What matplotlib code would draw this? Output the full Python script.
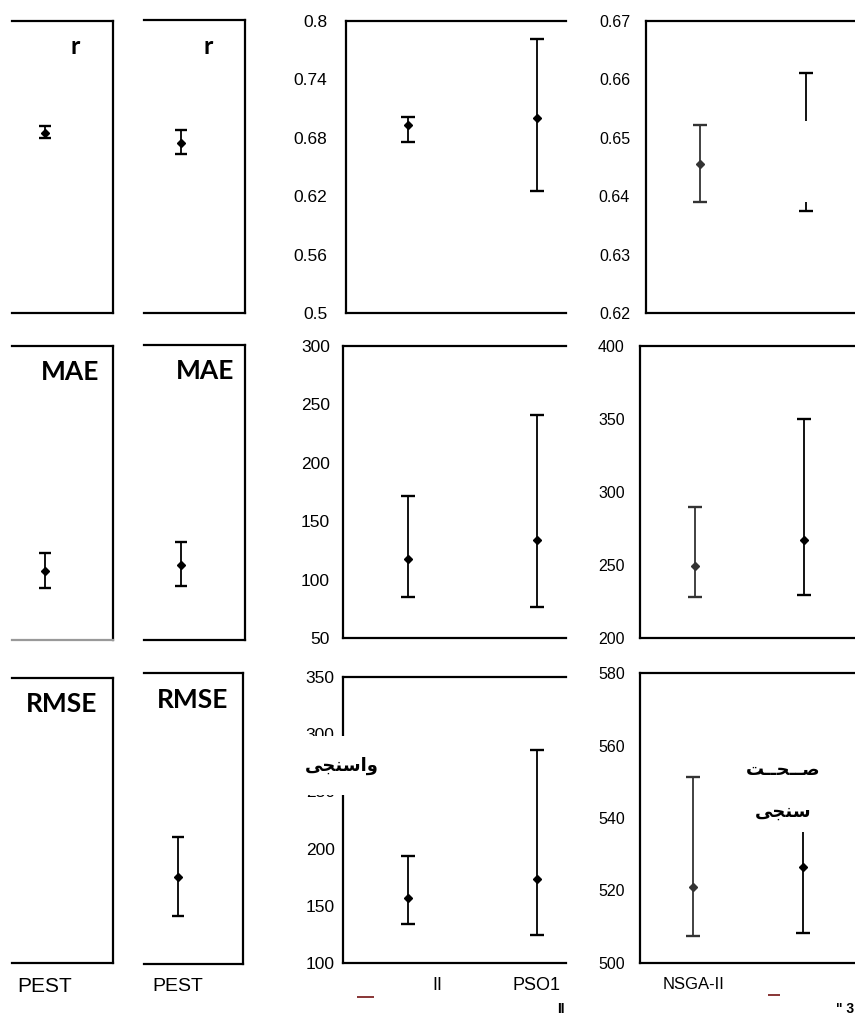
import matplotlib
matplotlib.use("Agg")
import matplotlib.pyplot as plt
from matplotlib.patches import Rectangle

W, H = 855, 1016

# ---------------- data ----------------
metrics = ["r", "MAE", "RMSE"]

# column 1 (PEST, partial panel)
c1_mean = [0.685, 108.9, None]
c1_lo = [0.680, 94.0, None]
c1_hi = [0.692, 124.2, None]

# column 2 (PEST, partial panel)
c2_mean = [0.674, 113.6, 175.0]
c2_lo = [0.663, 96.0, 141.2]
c2_hi = [0.687, 133.3, 209.4]

# column 3 (two methods)
c3_labels = ["", "PSO1"]
c3_r_mean = [0.693, 0.700]
c3_r_lo = [0.676, 0.625]
c3_r_hi = [0.701, 0.781]
c3_mae_mean = [117.8, 133.7]
c3_mae_lo = [85.3, 76.8]
c3_mae_hi = [171.3, 241.1]
c3_rmse_mean = [157.2, 173.0]
c3_rmse_lo = [134.4, 124.8]
c3_rmse_hi = [193.4, 286.3]

# column 4 (two methods)
c4_labels = ["NSGA-II", ""]
c4_r_mean = [0.6455, 0.6493]
c4_r_lo = [0.6390, 0.6374]
c4_r_hi = [0.6522, 0.6611]
c4_mae_mean = [249.3, 267.0]
c4_mae_lo = [228.0, 229.2]
c4_mae_hi = [289.5, 350.2]
c4_rmse_mean = [521.1, 526.6]
c4_rmse_lo = [507.5, 508.4]
c4_rmse_hi = [551.4, 544.8]

c3_ylims = [(0.5, 0.8), (50, 300), (100, 350)]
c3_ticks = [[0.5, 0.56, 0.62, 0.68, 0.74, 0.8], [50, 100, 150, 200, 250, 300],
            [100, 150, 200, 250, 300, 350]]
c3_ticklabels = [["0.5", "0.56", "0.62", "0.68", "0.74", "0.8"],
                 ["50", "100", "150", "200", "250", "300"],
                 ["100", "150", "200", "250", "300", "350"]]
c4_ylims = [(0.62, 0.67), (200, 400), (500, 580)]
c4_ticks = [[0.62, 0.63, 0.64, 0.65, 0.66, 0.67], [200, 250, 300, 350, 400],
            [500, 520, 540, 560, 580]]
c4_ticklabels = [["0.62", "0.63", "0.64", "0.65", "0.66", "0.67"],
                 ["200", "250", "300", "350", "400"],
                 ["500", "520", "540", "560", "580"]]

plt.rcParams["font.family"] = ["Liberation Sans", "DejaVu Sans"]

fig = plt.figure(figsize=(W / 100, H / 100), dpi=100)


def add_ax(x0, y0, x1, y1):
    return fig.add_axes([x0 / W, 1 - y1 / H, (x1 - x0) / W, (y1 - y0) / H])


def style(ax, left=True, right=False):
    for s in ["top", "bottom"]:
        ax.spines[s].set_linewidth(1.6)
        ax.spines[s].set_color("black")
    ax.spines["left"].set_visible(left)
    ax.spines["right"].set_visible(right)
    ax.spines["left"].set_linewidth(1.6)
    ax.spines["right"].set_linewidth(1.6)
    ax.tick_params(length=0)
    ax.set_facecolor("none")


def ebar(ax, xs, m, lo, hi, color="black", cap=5):
    yerr = [[a - b for a, b in zip(m, lo)], [c - a for a, c in zip(m, hi)]]
    ax.errorbar(xs, m, yerr=yerr, fmt="D", ms=4, color=color, ecolor=color,
                elinewidth=1.3, capsize=cap, capthick=1.7, zorder=3)


# pixel rectangles: (x0, y0, x1, y1)
rects = {
    (0, 0): (12, 21, 113, 313), (0, 1): (144, 20, 245, 313),
    (0, 2): (346, 21, 566, 313), (0, 3): (646, 21, 855, 313),
    (1, 0): (12, 346, 113, 640), (1, 1): (144, 345, 245, 640),
    (1, 2): (343, 346, 566, 638), (1, 3): (640, 346, 855, 638),
    (2, 0): (12, 678, 113, 963), (2, 1): (144, 673, 243, 964),
    (2, 2): (343, 677, 566, 963), (2, 3): (640, 673, 855, 963),
}
c1_xlim = (-0.327, 0.673)
c2_xlims = [(-0.366, 0.634), (-0.366, 0.634), (-0.34, 0.66)]
c3_xlims = [(-0.48, 1.225), (-0.5, 1.225), (-0.5, 1.225)]
c4_xlims = [(-0.51, 1.46), (-0.5, 1.47), (-0.49, 1.48)]
c3_pads = [13.5, 9.5, 6]
c4_pads = [11.5, 11, 11]

c3_data = [(c3_r_mean, c3_r_lo, c3_r_hi), (c3_mae_mean, c3_mae_lo, c3_mae_hi),
           (c3_rmse_mean, c3_rmse_lo, c3_rmse_hi)]
c4_data = [(c4_r_mean, c4_r_lo, c4_r_hi), (c4_mae_mean, c4_mae_lo, c4_mae_hi),
           (c4_rmse_mean, c4_rmse_lo, c4_rmse_hi)]

label_pos_c1 = [(75, 47), (70, 372), (62, 704)]
label_pos_c2 = [(208, 47), (205, 371), (193, 700)]

for row in range(3):
    # column 1
    ax = add_ax(*rects[(row, 0)])
    style(ax, left=False, right=True)
    ax.set_ylim(c3_ylims[row])
    ax.set_xlim(c1_xlim)
    ax.set_yticks([])
    if c1_mean[row] is not None:
        ebar(ax, [0], [c1_mean[row]], [c1_lo[row]], [c1_hi[row]], cap=4)
    if row == 2:
        ax.set_xticks([0], ["PEST"], fontsize=15)
        ax.tick_params(axis="x", pad=10)
    else:
        ax.set_xticks([])
    if row == 1:
        ax.spines["bottom"].set_color("#999999")

    # column 2
    ax = add_ax(*rects[(row, 1)])
    style(ax, left=False, right=True)
    ax.set_ylim(c3_ylims[row])
    ax.set_xlim(c2_xlims[row])
    ax.set_yticks([])
    ebar(ax, [0], [c2_mean[row]], [c2_lo[row]], [c2_hi[row]], cap=4)
    if row == 2:
        ax.set_xticks([0], ["PEST"], fontsize=14)
        ax.tick_params(axis="x", pad=10)
    else:
        ax.set_xticks([])

    # column 3
    ax = add_ax(*rects[(row, 2)])
    style(ax, left=True, right=False)
    ax.set_ylim(c3_ylims[row])
    ax.set_xlim(c3_xlims[row])
    ax.set_yticks(c3_ticks[row], c3_ticklabels[row], fontsize=12.5)
    ax.tick_params(axis="y", pad=c3_pads[row])
    m, lo, hi = c3_data[row]
    ebar(ax, [0, 1], m, lo, hi)
    if row == 2:
        ax.set_xticks([0, 1], c3_labels, fontsize=13)
        ax.tick_params(axis="x", pad=10)
    else:
        ax.set_xticks([])

    # column 4
    ax = add_ax(*rects[(row, 3)])
    style(ax, left=True, right=False)
    ax.set_ylim(c4_ylims[row])
    ax.set_xlim(c4_xlims[row])
    ax.set_yticks(c4_ticks[row], c4_ticklabels[row], fontsize=11.5)
    ax.tick_params(axis="y", pad=c4_pads[row])
    m, lo, hi = c4_data[row]
    ebar(ax, [0], [m[0]], [lo[0]], [hi[0]], color="#333333")
    ebar(ax, [1], [m[1]], [lo[1]], [hi[1]])
    if row == 0:
        # region of the second bar hidden in the source
        ax.add_patch(Rectangle((0.8, 0.6390), 0.4, 0.6529 - 0.6390,
                               facecolor="white", edgecolor="none", zorder=5))
    if row == 2:
        ax.set_xticks([0, 1], c4_labels, fontsize=12)
        ax.tick_params(axis="x", pad=10)
    else:
        ax.set_xticks([])

# metric labels
for i, name in enumerate(metrics):
    fs = 18 if name == "r" else 19
    for (x, y) in (label_pos_c1[i], label_pos_c2[i]):
        fig.text(x / W, 1 - y / H, name, ha="center", va="center",
                 fontsize=fs, fontweight="bold", family=["Lato", "DejaVu Sans"])

# white box with Persian label over column 3, row 3
fig.patches.append(Rectangle((272 / W, 1 - 795 / H), 110 / W, 59 / H,
                             transform=fig.transFigure, facecolor="white",
                             edgecolor="none", zorder=10))
ar_font = ["DejaVu Sans"]
fig.text(342 / W, 1 - 766 / H, "\uFBFD\uFEA0\uFEE8\uFEB3\uFE8D\uFEED",
         ha="center", va="center", fontsize=13, fontweight="bold",
         family=ar_font, zorder=11)

# white box with Persian label inside column 4, row 3
fig.patches.append(Rectangle((745 / W, 1 - 832 / H), 85 / W, 87 / H,
                             transform=fig.transFigure, facecolor="white",
                             edgecolor="none", zorder=10))
fig.text(783 / W, 1 - 770 / H, "\uFE96\u0640\u0640\uFEA4\u0640\u0640\uFEBB",
         ha="center", va="center", fontsize=13, fontweight="bold",
         family=ar_font, zorder=11)
fig.text(783 / W, 1 - 812 / H, "\uFBFD\uFEA0\uFEE8\uFEB3",
         ha="center", va="center", fontsize=13, fontweight="bold",
         family=ar_font, zorder=11)

# stray fragments along the bottom
fig.text(437 / W, 1 - 985 / H, "II", ha="center", va="center", fontsize=13)
fig.patches.append(Rectangle((357 / W, 1 - 998 / H), 17 / W, 2 / H,
                             transform=fig.transFigure, facecolor="#8b3a3a",
                             edgecolor="none"))
fig.patches.append(Rectangle((768 / W, 1 - 996 / H), 12 / W, 2 / H,
                             transform=fig.transFigure, facecolor="#8b3a3a",
                             edgecolor="none"))
fig.text(561 / W, 1 - 1009 / H, "II", ha="center", va="center", fontsize=10,
         fontweight="bold")
fig.text(845 / W, 1 - 1009 / H, "\" 3", ha="center", va="center", fontsize=10,
         fontweight="bold")

fig.savefig("out.png", dpi=100)
